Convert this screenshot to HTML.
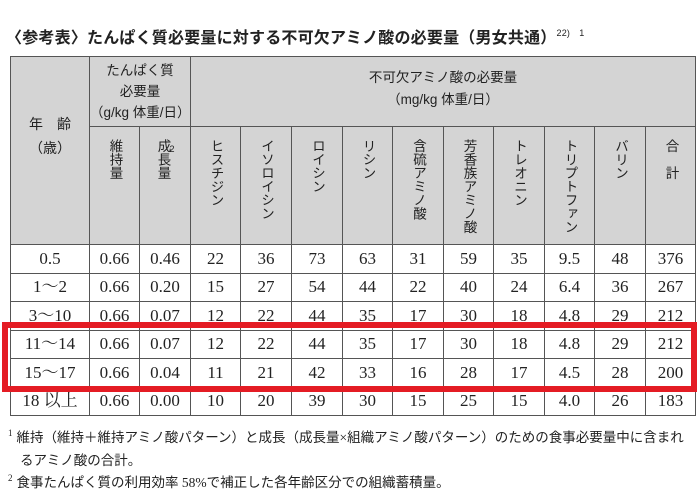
<!DOCTYPE html>
<html><head><meta charset="utf-8"><style>
body{margin:0;width:700px;height:487px;background:#fff;position:relative;overflow:hidden;font-family:"Liberation Sans","Noto Sans CJK JP",sans-serif;color:#222}
.title{position:absolute;left:6px;top:24px;font-size:16px;font-weight:bold;white-space:nowrap;letter-spacing:0.2px}
.title sup{font-size:9px;font-weight:normal;vertical-align:7px}
table{position:absolute;left:10px;top:56px;border-collapse:collapse;table-layout:fixed;width:686px}
td{border:1.3px solid #555;padding:0;text-align:center;vertical-align:middle;overflow:hidden}
thead td{background:#d4d4d4;font-size:13.5px;line-height:21px}
tbody td{font-family:"Liberation Serif","Noto Serif CJK SC",serif;font-size:17px;height:27.5px;line-height:20px}
.v{writing-mode:vertical-rl;display:inline-block;letter-spacing:0;line-height:14px;font-size:13.5px}
td.vt{vertical-align:top;padding-top:12px;height:105px}
.red{position:absolute;left:2px;top:322px;width:683px;height:58px;border:6px solid #e41c24}
.fn{position:absolute;left:8px;font-size:13.5px;white-space:nowrap;font-family:"Liberation Serif","Noto Sans CJK JP",sans-serif}
.fn sup{font-size:9px;vertical-align:6px;margin-right:4px}
</style></head><body>
<div class="title">〈参考表〉たんぱく質必要量に対する不可欠アミノ酸の必要量（男女共通）<sup>22)　1</sup></div>
<table>
<colgroup><col style="width:79px"><col style="width:50px"><col style="width:51px"><col style="width:50px"><col style="width:51px"><col style="width:51px"><col style="width:50px"><col style="width:51px"><col style="width:50px"><col style="width:51px"><col style="width:50px"><col style="width:51px"><col style="width:50px"></colgroup>
<thead>
<tr style="height:70px"><td rowspan="2" style="font-size:14px;line-height:24px;padding-bottom:30px">年　齢<br>（歳）</td><td colspan="2" style="height:69px">たんぱく質<br>必要量<br>（g/kg 体重/日）</td><td colspan="10" style="line-height:22px;padding-bottom:6px">不可欠アミノ酸の必要量<br>（mg/kg 体重/日）</td></tr>
<tr>
<td class="vt"><span class="v">維持量</span></td>
<td class="vt"><span class="v">成長量</span><sup style="font-size:9px;vertical-align:top">2</sup></td>
<td class="vt"><span class="v">ヒスチジン</span></td>
<td class="vt"><span class="v">イソロイシン</span></td>
<td class="vt"><span class="v">ロイシン</span></td>
<td class="vt"><span class="v">リシン</span></td>
<td class="vt"><span class="v">含硫アミノ酸</span></td>
<td class="vt"><span class="v">芳香族アミノ酸</span></td>
<td class="vt"><span class="v">トレオニン</span></td>
<td class="vt"><span class="v">トリプトファン</span></td>
<td class="vt"><span class="v">バリン</span></td>
<td class="vt"><span class="v">合　計</span></td>
</tr></thead>
<tbody>
<tr><td>0.5</td><td>0.66</td><td>0.46</td><td>22</td><td>36</td><td>73</td><td>63</td><td>31</td><td>59</td><td>35</td><td>9.5</td><td>48</td><td>376</td></tr>
<tr><td>1～2</td><td>0.66</td><td>0.20</td><td>15</td><td>27</td><td>54</td><td>44</td><td>22</td><td>40</td><td>24</td><td>6.4</td><td>36</td><td>267</td></tr>
<tr><td>3～10</td><td>0.66</td><td>0.07</td><td>12</td><td>22</td><td>44</td><td>35</td><td>17</td><td>30</td><td>18</td><td>4.8</td><td>29</td><td>212</td></tr>
<tr><td>11～14</td><td>0.66</td><td>0.07</td><td>12</td><td>22</td><td>44</td><td>35</td><td>17</td><td>30</td><td>18</td><td>4.8</td><td>29</td><td>212</td></tr>
<tr><td>15～17</td><td>0.66</td><td>0.04</td><td>11</td><td>21</td><td>42</td><td>33</td><td>16</td><td>28</td><td>17</td><td>4.5</td><td>28</td><td>200</td></tr>
<tr><td>18 以上</td><td>0.66</td><td>0.00</td><td>10</td><td>20</td><td>39</td><td>30</td><td>15</td><td>25</td><td>15</td><td>4.0</td><td>26</td><td>183</td></tr>
</tbody></table>
<div class="red"></div>
<div class="fn" style="top:426px"><sup>1</sup>維持（維持＋維持アミノ酸パターン）と成長（成長量×組織アミノ酸パターン）のための食事必要量中に含まれ</div>
<div class="fn" style="top:449px;left:20px">るアミノ酸の合計。</div>
<div class="fn" style="top:471px"><sup>2</sup>食事たんぱく質の利用効率 58%で補正した各年齢区分での組織蓄積量。</div>
</body></html>
